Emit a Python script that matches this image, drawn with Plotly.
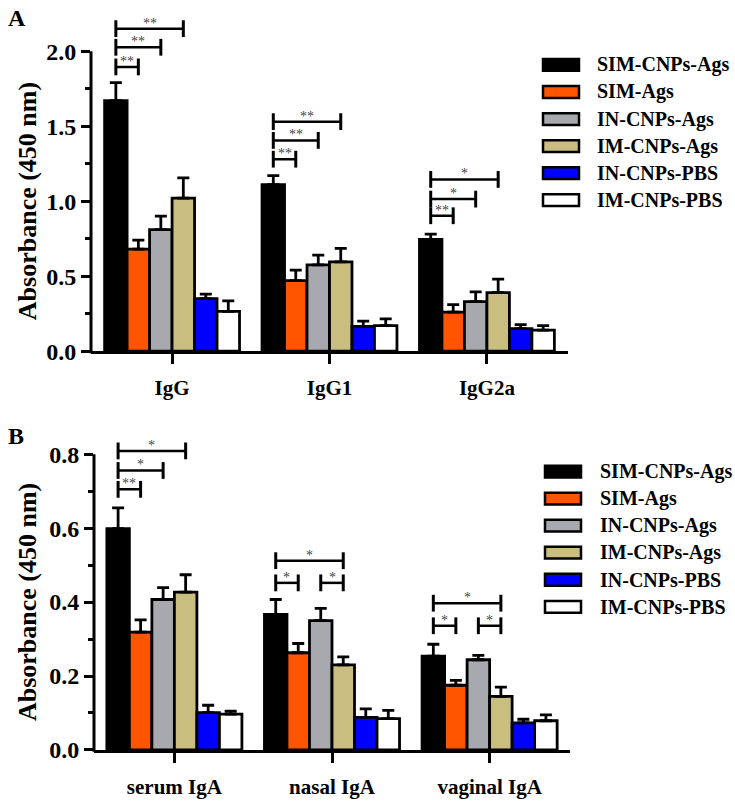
import plotly.graph_objects as go

# ---------------- data ----------------
series = ["SIM-CNPs-Ags", "SIM-Ags", "IN-CNPs-Ags", "IM-CNPs-Ags", "IN-CNPs-PBS", "IM-CNPs-PBS"]
colors = ["#000000", "#FF5500", "#A8A8AF", "#C9BD7F", "#0000FF", "#FFFFFF"]

cats_a = ["IgG", "IgG1", "IgG2a"]
# values per series (rows = series, cols = categories)
vals_a = [
    [1.67, 1.11, 0.745],
    [0.68, 0.47, 0.26],
    [0.81, 0.575, 0.33],
    [1.02, 0.595, 0.39],
    [0.35, 0.165, 0.15],
    [0.265, 0.17, 0.14],
]
errs_a = [
    [0.12, 0.06, 0.035],
    [0.06, 0.07, 0.05],
    [0.09, 0.065, 0.065],
    [0.135, 0.09, 0.09],
    [0.03, 0.035, 0.027],
    [0.07, 0.045, 0.03],
]
# (category index, left series, right series, y level, label)
sig_a = [
    (0, 0, 1, 1.895, "**"), (0, 0, 2, 2.026, "**"), (0, 0, 3, 2.15, "**"),
    (1, 0, 1, 1.28, "**"), (1, 0, 2, 1.405, "**"), (1, 0, 3, 1.53, "**"),
    (2, 0, 1, 0.903, "**"), (2, 0, 2, 1.014, "*"), (2, 0, 3, 1.145, "*"),
]

cats_b = ["serum IgA", "nasal IgA", "vaginal IgA"]
vals_b = [
    [0.599, 0.367, 0.254],
    [0.319, 0.263, 0.175],
    [0.407, 0.35, 0.244],
    [0.427, 0.23, 0.145],
    [0.101, 0.088, 0.073],
    [0.097, 0.085, 0.079],
]
errs_b = [
    [0.056, 0.04, 0.032],
    [0.033, 0.025, 0.013],
    [0.032, 0.033, 0.012],
    [0.047, 0.022, 0.025],
    [0.02, 0.023, 0.01],
    [0.008, 0.022, 0.016],
]
sig_b = [
    (0, 0, 1, 0.705, "**"), (0, 0, 2, 0.756, "*"), (0, 0, 3, 0.809, "*"),
    (1, 0, 1, 0.452, "*"), (1, 2, 3, 0.452, "*"), (1, 0, 3, 0.512, "*"),
    (2, 0, 1, 0.336, "*"), (2, 2, 3, 0.336, "*"), (2, 0, 3, 0.397, "*"),
]

yticks_a = [0.0, 0.5, 1.0, 1.5, 2.0]
yminor_a = [0.25, 0.75, 1.25, 1.75]
yticks_b = [0.0, 0.2, 0.4, 0.6, 0.8]
yminor_b = [0.1, 0.3, 0.5, 0.7]

# ---------------- layout constants ----------------
W, H = 735, 803
FONT = "Liberation Serif"
BARGAP = 0.143
NS = len(series)
bw = (1 - BARGAP) / NS


def xpos(cat, i):
    return cat + (i - (NS - 1) / 2) * bw


def px(x):
    return x / W


def py(y):
    return 1 - y / H


panels = [
    dict(cats=cats_a, vals=vals_a, errs=errs_a, sig=sig_a, yticks=yticks_a, yminor=yminor_a,
         xdom=[px(91), px(568)], xr=[-0.515, 2.515], ybot=357, ppu=152.5, ytop_range=2.2,
         xa="x", ya="y", letter="A", letter_xy=(6, 3), legend_y0=66, legend_x0=543, legend_tx=595),
    dict(cats=cats_b, vals=vals_b, errs=errs_b, sig=sig_b, yticks=yticks_b, yminor=yminor_b,
         xdom=[px(94), px(570)], xr=[-0.51, 2.51], ybot=762.3, ppu=375.75, ytop_range=0.85,
         xa="x2", ya="y2", letter="B", letter_xy=(6, 428), legend_y0=479.3, legend_x0=545, legend_tx=598),
]

fig = go.Figure()
shapes = []
annotations = []

for p in panels:
    ncat = len(p["cats"])
    for i, name in enumerate(series):
        fig.add_trace(go.Bar(
            x=list(range(ncat)), y=p["vals"][i], name=name,
            marker=dict(color=colors[i], line=dict(color="black", width=2.8)),
            error_y=dict(type="data", array=p["errs"][i], arrayminus=[0] * ncat, symmetric=False,
                         color="black", thickness=2.8, width=6),
            xaxis=p["xa"], yaxis=p["ya"], showlegend=False,
        ))
    for (c, a, b, yv, lab) in p["sig"]:
        x0, x1 = xpos(c, a), xpos(c, b)
        fig.add_trace(go.Scatter(
            x=[x0, x1], y=[yv, yv], mode="lines+markers",
            line=dict(color="black", width=2.5),
            marker=dict(symbol="line-ns", size=12, line=dict(color="black", width=3)),
            cliponaxis=False, xaxis=p["xa"], yaxis=p["ya"], showlegend=False, hoverinfo="skip",
        ))
        annotations.append(dict(
            x=(x0 + x1) / 2, y=yv, xref=p["xa"], yref=p["ya"], text=lab, showarrow=False,
            yanchor="bottom", yshift=-4, font=dict(family=FONT, size=14, color="#444444"),
        ))
    # y-axis line up to the top tick only
    yd = p["ya"] + " domain"
    shapes.append(dict(type="line", xref=p["xa"] + " domain", yref=yd, x0=0, x1=0,
                       y0=-0.006, y1=p["yticks"][-1] / p["ytop_range"],
                       line=dict(color="black", width=3)))
    # y-axis title
    top_px = p["ybot"] - p["yticks"][-1] * p["ppu"]
    annotations.append(dict(
        x=px(27), y=py((top_px + p["ybot"]) / 2), xref="paper", yref="paper",
        text="<b>Absorbance (450 nm)</b>", textangle=-90, showarrow=False,
        xanchor="center", yanchor="middle", font=dict(family=FONT, size=26, color="black"),
    ))
    # panel letter
    lx, ly = p["letter_xy"]
    annotations.append(dict(
        x=px(lx), y=py(ly), xref="paper", yref="paper", text="<b>" + p["letter"] + "</b>",
        showarrow=False, xanchor="left", yanchor="top", font=dict(family=FONT, size=24, color="black"),
    ))
    # legend (drawn manually to match wide swatches)
    for i, name in enumerate(series):
        yc = p["legend_y0"] + i * 27.5
        shapes.append(dict(type="rect", xref="paper", yref="paper",
                           x0=px(p["legend_x0"]), x1=px(p["legend_x0"] + 36),
                           y0=py(yc - 6), y1=py(yc + 6),
                           fillcolor=colors[i], line=dict(color="black", width=2.5)))
        annotations.append(dict(
            x=px(p["legend_tx"]), y=py(yc), xref="paper", yref="paper", text="<b>" + name + "</b>",
            showarrow=False, xanchor="left", yanchor="middle",
            font=dict(family=FONT, size=20, color="black"),
        ))

axis_font = dict(family=FONT, size=24, color="black")
layout_axes = {}
for k, p in enumerate(panels):
    sfx = "" if k == 0 else "2"
    ydom = [py(p["ybot"]), py(p["ybot"] - p["ytop_range"] * p["ppu"])]
    layout_axes["xaxis" + sfx] = dict(
        domain=p["xdom"], range=p["xr"], anchor=p["ya"],
        tickvals=list(range(len(p["cats"]))), ticktext=["<b>" + c + "</b>" for c in p["cats"]],
        ticks="outside", ticklen=10, tickwidth=3, tickcolor="black",
        showline=True, linewidth=3, linecolor="black", showgrid=False, zeroline=False,
        tickfont=dict(family=FONT, size=21, color="black"), ticklabelstandoff=6,
    )
    layout_axes["yaxis" + sfx] = dict(
        domain=ydom, range=[0, p["ytop_range"]], anchor=p["xa"],
        tickvals=p["yticks"], ticktext=["<b>%.1f</b>" % v for v in p["yticks"]],
        ticks="outside", ticklen=9, tickwidth=3, tickcolor="black",
        minor=dict(tickvals=p["yminor"], ticks="outside", ticklen=5, tickwidth=3, tickcolor="black"),
        showline=False, showgrid=False, zeroline=False, tickfont=axis_font, ticklabelstandoff=0,
    )

fig.update_layout(
    width=W, height=H, margin=dict(l=0, r=0, t=0, b=0),
    paper_bgcolor="white", plot_bgcolor="white",
    barmode="group", bargap=BARGAP, bargroupgap=0,
    shapes=shapes, annotations=annotations, showlegend=False,
    **layout_axes,
)

fig.write_html("out.html", config={"displayModeBar": False},
               post_script="document.body.style.margin='0';document.body.style.overflow='hidden';")
